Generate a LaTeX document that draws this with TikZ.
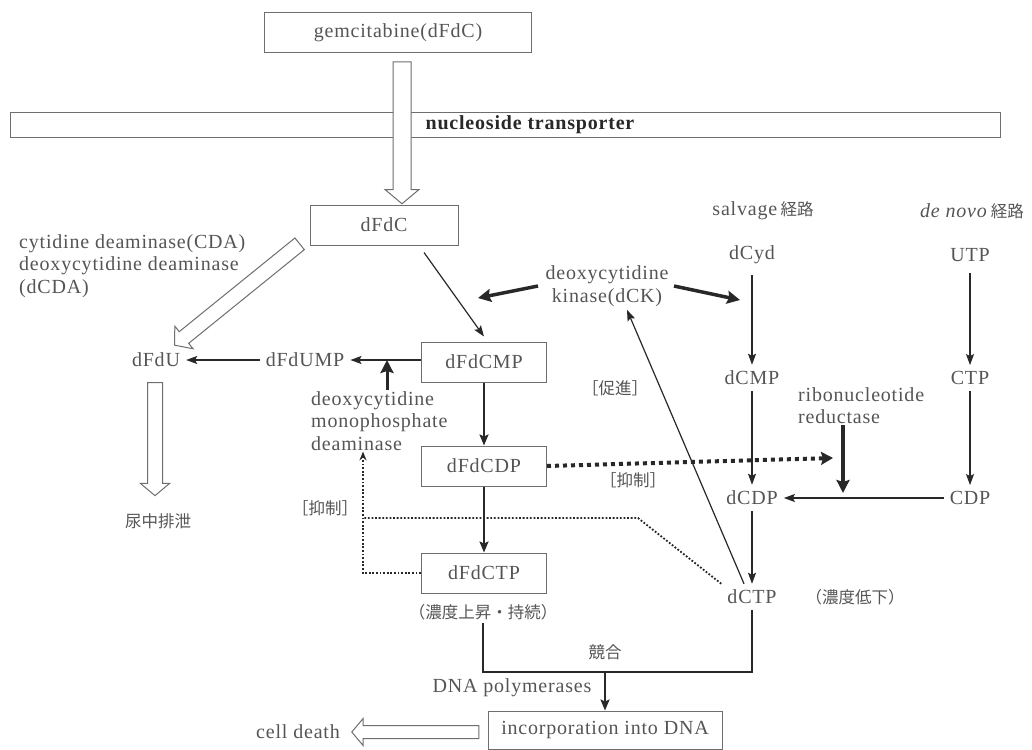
\documentclass[tikz,border=0pt]{standalone}
\usepackage{fontspec}
\setmainfont[LetterSpace=4]{Liberation Serif}
\newfontfamily\jp{Noto Sans CJK JP}
\usetikzlibrary{arrows.meta,shapes.arrows,positioning}
\definecolor{ink}{RGB}{40,40,40}
\definecolor{txt}{RGB}{85,85,85}
\definecolor{rim}{RGB}{110,110,110}
\newcommand{\ja}[1]{{\jp\fontsize{16.5}{20}\selectfont #1}}

\begin{document}
\begin{tikzpicture}[x=1pt,y=-1pt,font=\fontsize{20}{22.5}\selectfont,text=txt,
	box/.style={draw=rim,line width=1pt,minimum width=148,minimum height=40,inner sep=0},
	lbl/.style={inner sep=6pt},
	arr/.style={draw=ink,line width=1.2pt,-{Stealth[length=11pt,width=8pt,inset=2pt]}},
	mid/.style={draw=ink,line width=2pt,-{Stealth[length=11pt,width=9pt,inset=2pt]}},
	fat/.style={draw=ink,line width=3.5pt,-{Stealth[length=13pt,width=13pt,inset=2pt]}},
	thk/.style={draw=ink,line width=2pt},
	dots/.style={draw=ink,line width=1.8pt,dash pattern=on 1.8pt off 1.8pt},
	bigdots/.style={draw=ink,line width=4pt,dash pattern=on 4pt off 4pt,-{Stealth[length=12pt,width=13pt,inset=2pt]}},
	hollow/.style={single arrow,draw=rim,fill=white,line width=1pt,inner sep=8.5pt,
		single arrow head extend=8pt,single arrow tip angle=100}]
	\useasboundingbox (0,0) rectangle (1032,749);

	% membrane and uptake
	\node[box,minimum width=267] (gem) at (398,33) {gemcitabine(dFdC)};
	\node[draw=rim,line width=1pt,minimum width=990,minimum height=25,inner sep=0] (band) at (505,125) {};
	\node[text=ink,font=\fontsize{20}{22}\selectfont\bfseries] (nt) at (530,125) {nucleoside transporter};
	\node[hollow,minimum height=142,rotate=-90] (inarrow) at (402,129) {};
	\node[box] (dfdc) at (384,225) {dFdC};

	% inactivation
	\node[inner sep=1pt,anchor=north west,align=left] (cda) at (18,233) {cytidine deaminase(CDA)\\deoxycytidine deaminase\\(dCDA)};
	\node[hollow,minimum height=161,rotate=-141,inner sep=7pt,single arrow head extend=7pt] (cdaarrow) at (239.5,292.5) {};
	\node[lbl] (dfdu) at (156,360) {dFdU};
	\node[lbl] (dfdump) at (305,360) {dFdUMP};
	\node[hollow,minimum height=113,rotate=-90,inner sep=7pt,single arrow head extend=7pt] (urarrow) at (155,436) {};
	\node (urine) at (158,521) {\ja{尿中排泄}};
	\node[inner sep=1pt,anchor=north west,align=left] (dcmpd) at (310,390) {deoxycytidine\\monophosphate\\deaminase};
	\coordinate (jn) at (387,360);

	% phosphorylation
	\node[box,minimum width=125] (dfdcmp) at (484,362) {dFdCMP};
	\node[box,minimum width=125] (dfdcdp) at (484,466) {dFdCDP};
	\node[box,minimum width=125] (dfdctp) at (484,573) {dFdCTP};
	\node (rise) at (483,612) {\ja{（濃度上昇・持続）}};
	\node[align=center] (dck) at (607,286) {deoxycytidine\\kinase(dCK)};
	\coordinate (dckL) at (478,298);
	\coordinate (dckR) at (740,300);

	% salvage and de novo
	\node (salv) at (763,211) {salvage\,\ja{経路}};
	\node (denovo) at (972,211) {\textit{de novo}\,\ja{経路}};
	\node[lbl] (dcyd) at (752,255) {dCyd};
	\node[lbl] (utp) at (970,255) {UTP};
	\node[lbl] (dcmp) at (752,378) {dCMP};
	\node[lbl] (ctp) at (970,378) {CTP};
	\node[lbl] (dcdp) at (752,498) {dCDP};
	\node[lbl] (cdp) at (970,498) {CDP};
	\node[lbl] (dctp) at (752,597) {dCTP};
	\node (low) at (855,597) {\ja{（濃度低下）}};
	\node[inner sep=1pt,anchor=north west,align=left] (rnr) at (797,386) {ribonucleotide\\reductase};
	\coordinate (rnrtip) at (843,493);
	\coordinate (rnrhit) at (833,458);

	% labels
	\node (sok) at (615,388) {\ja{［促進］}};
	\node (yoku2) at (633,480) {\ja{［抑制］}};
	\node (yoku1) at (325,508) {\ja{［抑制］}};
	\node (kyogo) at (605,652) {\ja{競合}};
	\node (pol) at (512,688) {DNA polymerases};
	\node[box,minimum width=234,minimum height=38] (inc) at (605,730) {incorporation into DNA};
	\node (death) at (298,732) {cell death};
	\node[hollow,minimum height=127,rotate=180,inner sep=6pt,single arrow head extend=7pt] (deatharrow) at (418,732) {};
	\coordinate (meet) at (605,672);
	\coordinate (inh) at (363,518);

	% connectors
	\draw[arr] (dfdump) -- (dfdu);
	\draw[arr] (dfdcmp.west |- dfdump.east) -- (dfdump.east);
	\draw[fat,line width=3pt] (dcmpd.north -| jn) -- (jn);
	\draw[arr] ([shift={(40,7)}]dfdc.south) -- ([yshift=5pt]dfdcmp.north);
	\draw[mid] (dfdcmp) -- (dfdcdp);
	\draw[mid] (dfdcdp) -- (dfdctp);
	\draw[fat] ([xshift=-4pt]dck.west) -- (dckL);
	\draw[fat] ([xshift=2pt]dck.east) -- (dckR);
	\draw[arr,shorten <=5pt] (dcyd) -- (dcmp);
	\draw[arr,shorten <=5pt] (utp) -- (ctp);
	\draw[arr] (dcmp) -- (dcdp);
	\draw[arr] (ctp) -- (cdp);
	\draw[arr] (cdp) -- (dcdp);
	\draw[arr] (dcdp) -- (dctp);
	\draw[fat] (rnr.south -| rnrtip) -- (rnrtip);
	\draw[bigdots] (dfdcdp.east) -- (rnrhit);
	\draw[arr] ([xshift=-8pt]dctp.north) -- ([xshift=20pt]dck.south);
	\draw[dots,-{Stealth[length=9pt,width=7pt]}] (dfdctp.west) -| (dcmpd.south -| inh);
	\draw[dots] (dctp.north west) -- (638,518) -- (inh);
	\draw[thk] (rise.south) |- (meet) -| (dctp.south);
	\draw[mid] (meet) -- (inc);
\end{tikzpicture}
\end{document}
